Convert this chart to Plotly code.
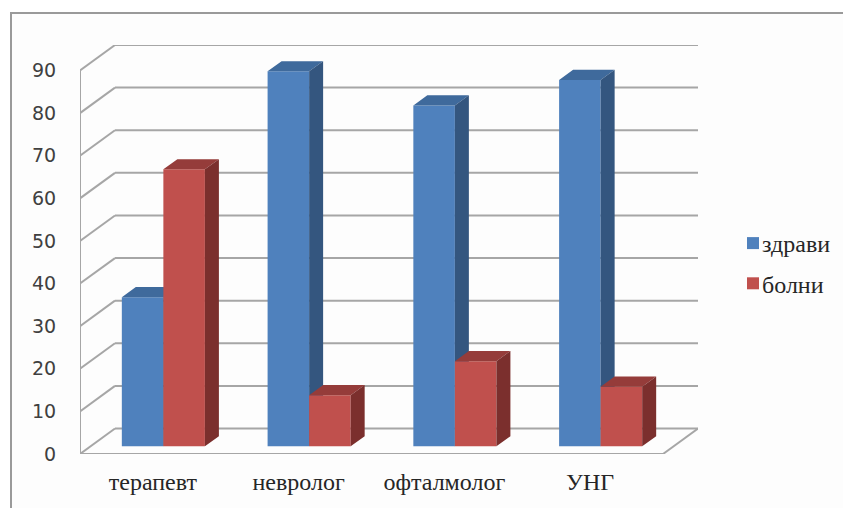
import plotly.graph_objects as go

# Chart data
categories = ["терапевт", "невролог", "офталмолог", "УНГ"]
healthy = [35, 88, 80, 86]
sick = [65, 12, 20, 14]
series_names = ["здрави", "болни"]
y_ticks = [0, 10, 20, 30, 40, 50, 60, 70, 80, 90]

# Oblique projection of the chart box, in axis units
DEPTH_X = 0.24
DEPTH_Y = 5.98
BAR_FRONT = 0.3
BAR_BACK = 0.7
BAR_WIDTH = 0.285

W, H = 843, 508
M = dict(l=80, r=145, t=45, b=54)
GRID = "#a6a6a6"
X_MAX = len(categories) + DEPTH_X
Y_MAX = max(y_ticks) + DEPTH_Y


def px_x(p):
    return (p - M["l"]) / (W - M["l"] - M["r"])


def px_y(p):
    return 1 - (p - M["t"]) / (H - M["t"] - M["b"])


def project(x, v, d):
    return x + d * DEPTH_X, v + d * DEPTH_Y


def segment(x0, y0, x1, y1, width=2):
    return dict(type="line", layer="below", xref="x", yref="y",
                x0=x0, y0=y0, x1=x1, y1=y1,
                line=dict(color=GRID, width=width))


fig = go.Figure()


def add_series(name, values, side_sign, front, top, side, xa, ya):
    lefts, tops_x, tops_y, sides_x, sides_y = [], [], [], [], []
    for i, v in enumerate(values):
        left = i + 0.5 + (BAR_WIDTH if side_sign > 0 else 0) - BAR_WIDTH
        lefts.append(left + BAR_WIDTH / 2 + BAR_FRONT * DEPTH_X)
        right = left + BAR_WIDTH
        # top face
        for x, val, d in [(left, v, BAR_FRONT), (right, v, BAR_FRONT),
                          (right, v, BAR_BACK), (left, v, BAR_BACK), (left, v, BAR_FRONT)]:
            px, py = project(x, val, d)
            tops_x.append(px)
            tops_y.append(py)
        tops_x.append(None)
        tops_y.append(None)
        # right-hand face
        for x, val, d in [(right, 0, BAR_FRONT), (right, v, BAR_FRONT),
                          (right, v, BAR_BACK), (right, 0, BAR_BACK), (right, 0, BAR_FRONT)]:
            px, py = project(x, val, d)
            sides_x.append(px)
            sides_y.append(py)
        sides_x.append(None)
        sides_y.append(None)
    lift = BAR_FRONT * DEPTH_Y
    fig.add_trace(go.Bar(x=lefts, y=values, base=[lift] * len(values), width=BAR_WIDTH,
                         name=name, marker=dict(color=front, line=dict(width=0)),
                         legendgroup=name, xaxis=xa, yaxis=ya))
    for xs, ys, color in [(tops_x, tops_y, top), (sides_x, sides_y, side)]:
        fig.add_trace(go.Scatter(x=xs, y=ys, mode="lines", fill="toself", fillcolor=color,
                                 line=dict(width=0, color=color), showlegend=False,
                                 hoverinfo="skip", xaxis=xa, yaxis=ya))


# Red bars sit on an overlaid axis pair so they hide the blue side faces behind them
add_series(series_names[0], healthy, -1, "#4f81bd", "#3f6a9c", "#34567f", "x", "y")
add_series(series_names[1], sick, 1, "#c0504d", "#953c3a", "#7b2f2d", "x2", "y2")

shapes = [dict(type="rect", layer="below", xref="paper", yref="paper",
               x0=px_x(11), x1=px_x(W + 20), y0=px_y(W), y1=px_y(13),
               fillcolor="#fdfdfd", line=dict(color="#9a9a9a", width=2))]

# Left wall edge, wall gridlines and floor outline
shapes.append(segment(0, 0, 0, max(y_ticks)))
for v in y_ticks:
    bx, by = project(0, v, 1)
    shapes.append(segment(0, v, bx, by))
    shapes.append(segment(bx, by, X_MAX, by))
shapes.append(segment(0, 0, len(categories), 0))
shapes.append(segment(len(categories), 0, X_MAX, DEPTH_Y))

fig.update_layout(
    width=W, height=H, margin=dict(**M, pad=0, autoexpand=False),
    autosize=False,
    paper_bgcolor="white", plot_bgcolor="rgba(0,0,0,0)",
    barmode="overlay", shapes=shapes,
    xaxis=dict(range=[0, X_MAX], showgrid=False, zeroline=False, showline=False,
               tickmode="array",
               tickvals=[i + 0.5 for i in range(len(categories))], ticktext=categories,
               ticks="outside", ticklen=6, tickcolor="rgba(0,0,0,0)",
               tickfont=dict(family="Liberation Serif", size=24, color="#262626")),
    yaxis=dict(range=[0, Y_MAX], showgrid=False, zeroline=False, showline=False,
               tickmode="array", tickvals=y_ticks,
               ticks="outside", ticklen=19, tickcolor="rgba(0,0,0,0)",
               tickfont=dict(family="DejaVu Sans", size=19, color="#404040")),
    xaxis2=dict(range=[0, X_MAX], overlaying="x", visible=False),
    yaxis2=dict(range=[0, Y_MAX], overlaying="y", visible=False),
    legend=dict(x=px_x(722), y=px_y(221), xanchor="left", yanchor="top",
                bgcolor="rgba(0,0,0,0)", tracegroupgap=6,
                font=dict(family="Liberation Serif", size=24, color="#262626")),
)

# Pull each legend swatch up against its label
fig.write_html("out.html", post_script="""
document.querySelectorAll('.legend .legendsymbols').forEach(function (g) {
  g.setAttribute('transform', 'translate(11,0)');
});
""")
